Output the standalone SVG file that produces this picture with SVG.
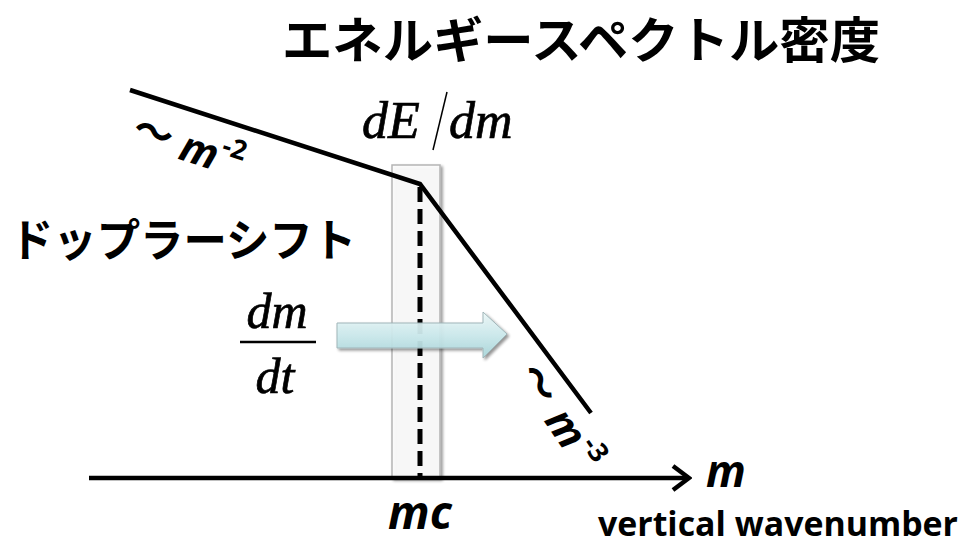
<svg xmlns="http://www.w3.org/2000/svg" width="965" height="548" viewBox="0 0 965 548">
  <defs>
    <linearGradient id="arrowFill" x1="0" y1="0" x2="0" y2="1">
      <stop offset="0" stop-color="#eef9f9"/>
      <stop offset="0.5" stop-color="#cdebee"/>
      <stop offset="1" stop-color="#a9d6da"/>
    </linearGradient>
    <filter id="shadow" x="-10%" y="-10%" width="130%" height="130%">
      <feGaussianBlur in="SourceAlpha" stdDeviation="1.5"/>
      <feOffset dx="1.5" dy="2" result="b"/>
      <feComponentTransfer><feFuncA type="linear" slope="0.45"/></feComponentTransfer>
      <feMerge><feMergeNode/><feMergeNode in="SourceGraphic"/></feMerge>
    </filter>
    <marker id="openArrow" viewBox="0 0 22 30" refX="19" refY="15" markerWidth="22" markerHeight="30" markerUnits="userSpaceOnUse" orient="auto">
      <path d="M3,3 L19,15 L3,27" fill="none" stroke="#000" stroke-width="4.5"/>
    </marker>
  </defs>
  <style>
    .jp { font-family: "Noto Sans CJK JP", "Noto Sans", sans-serif; font-weight: bold; fill: #000; }
    .math { font-family: "Liberation Serif", "DejaVu Serif", serif; font-style: italic; fill: #000; stroke: #000; stroke-width: 0.7; }
    .lab { font-family: "Open Sans", "Liberation Sans", sans-serif; font-weight: bold; fill: #000; }
    .tilde { font-family: "Noto Sans CJK JP", sans-serif; font-weight: bold; fill: #000; }
    .curve { fill: none; stroke: #000; stroke-width: 4.5; stroke-linejoin: miter; }
  </style>
  <rect width="965" height="548" fill="#fff"/>

  <g id="title">
    <text class="jp" x="282" y="58" font-size="49" textLength="598" lengthAdjust="spacingAndGlyphs">エネルギースペクトル密度</text>
  </g>

  <g id="doppler">
    <text class="jp" x="10" y="257" font-size="45" textLength="346" lengthAdjust="spacingAndGlyphs">ドップラーシフト</text>
  </g>

  <g id="dEdm">
    <text class="math" x="362" y="138" font-size="52">dE</text>
    <line x1="447" y1="92" x2="433" y2="150" stroke="#000" stroke-width="1.5"/>
    <text class="math" x="449" y="138" font-size="52">dm</text>
  </g>

  <g id="mcband">
    <rect x="392" y="165" width="48" height="313" fill="#ffffff" fill-opacity="0.8" stroke="#b5b5b5" stroke-width="1.5" filter="url(#shadow)"/>
  </g>

  <g id="connectors">
    <line x1="89" y1="478" x2="689" y2="478" stroke="#000" stroke-width="4.5" marker-end="url(#openArrow)"/>
    <polyline class="curve" points="130,90 420,184 591,413"/>
    <line x1="420" y1="187" x2="420" y2="476" stroke="#000" stroke-width="5" stroke-dasharray="15,7"/>
  </g>

  <g id="shift-arrow">
    <path d="M337,323 L483,323 L483,312 L507,334 L483,358 L483,348 L337,348 Z" fill="url(#arrowFill)" fill-opacity="0.92" stroke="#9fb5b8" stroke-width="1" filter="url(#shadow)"/>
  </g>

  <g id="dmdt">
    <text class="math" x="277" y="328" font-size="50" text-anchor="middle">dm</text>
    <line x1="240" y1="342" x2="316" y2="342" stroke="#000" stroke-width="2.5"/>
    <text class="math" x="275" y="393" font-size="50" text-anchor="middle">dt</text>
  </g>

  <g id="slope2">
    <g transform="translate(154,132) rotate(18)">
      <text class="tilde" x="0" y="15" font-size="40" text-anchor="middle">～</text>
      <text class="lab" x="30" y="18" font-size="42" font-style="italic">m</text>
      <text class="lab" x="82" y="0" font-size="27" text-anchor="middle">-2</text>
    </g>
  </g>

  <g id="slope3">
    <g transform="translate(540,383) rotate(56)">
      <text class="tilde" x="0" y="15" font-size="40" text-anchor="middle">～</text>
      <text class="lab" x="33" y="18" font-size="42" font-style="italic">m</text>
      <text class="lab" x="86" y="0" font-size="27" text-anchor="middle">-3</text>
    </g>
  </g>

  <g id="axis-labels">
    <text class="lab" x="706" y="487" font-size="44" font-style="italic">m</text>
    <text class="lab" x="420" y="529" font-size="46" font-style="italic" text-anchor="middle">mc</text>
    <text class="lab" x="598" y="536" font-size="34" textLength="360" lengthAdjust="spacingAndGlyphs">vertical wavenumber</text>
  </g>
</svg>
